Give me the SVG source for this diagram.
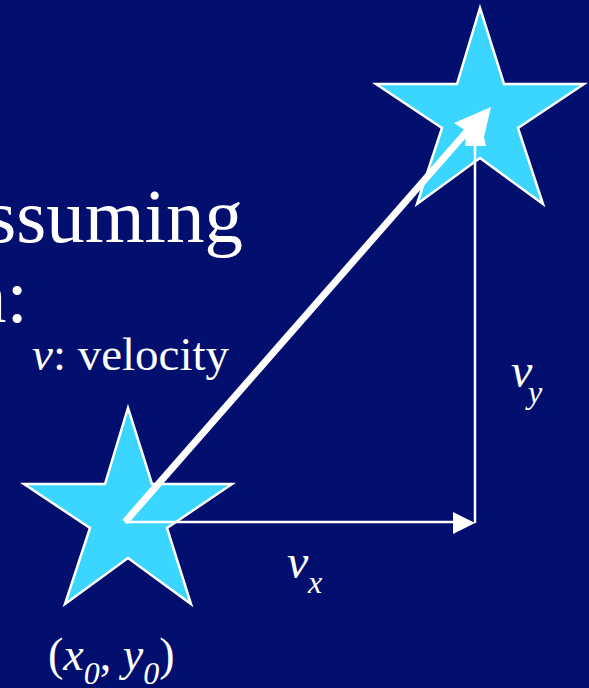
<svg xmlns="http://www.w3.org/2000/svg" width="589" height="688" viewBox="0 0 589 688">
<style>
.t{font-family:"Liberation Serif","Times New Roman",serif;fill:#fff}
.i{font-style:italic}
.star{fill:#3AD6FF;stroke:#fff;stroke-width:2.5;stroke-linejoin:miter}
</style>
<rect width="589" height="688" fill="#020F6F"/>
<text class="t" x="243" y="242" font-size="77" text-anchor="end">ssuming</text>
<text class="t" x="28" y="322" font-size="77" text-anchor="end">n:</text>
<text class="t" x="32" y="370" font-size="47"><tspan class="i">v</tspan>: velocity</text>
<g id="star-start">
<polygon class="star" points="128,408 152,484 232,484 167,528 191,604 128,558 65,604 90,528 24,484 105,484"/>
</g>
<g id="star-end">
<polygon class="star" points="480,8 504,84 584,84 518,128 543,204 480,158 417,204 442,128 376,84 457,84"/>
</g>
<g id="connectors">
<line x1="125" y1="522" x2="458" y2="522" stroke="#fff" stroke-width="2.5"/>
<polygon points="475,523 453,512 453,534" fill="#fff"/>
<line x1="475" y1="523" x2="475" y2="145" stroke="#fff" stroke-width="2.5"/>
<line x1="125" y1="522" x2="470" y2="128" stroke="#fff" stroke-width="7"/>
<polygon points="491,107 454,123 466,131 465,146 486,146 484,137" fill="#fff"/>
</g>
<text class="t i" x="511" y="387" font-size="48">v</text>
<text class="t i" x="528" y="403" font-size="32">y</text>
<text class="t i" x="287" y="578" font-size="48">v</text>
<text class="t i" x="308" y="593" font-size="32">x</text>
<text class="t" x="48" y="670" font-size="46">(<tspan class="i">x</tspan><tspan class="i" font-size="32" dy="14">0</tspan><tspan dy="-14">, </tspan><tspan class="i">y</tspan><tspan class="i" font-size="32" dy="14">0</tspan><tspan dy="-14">)</tspan></text>
</svg>
